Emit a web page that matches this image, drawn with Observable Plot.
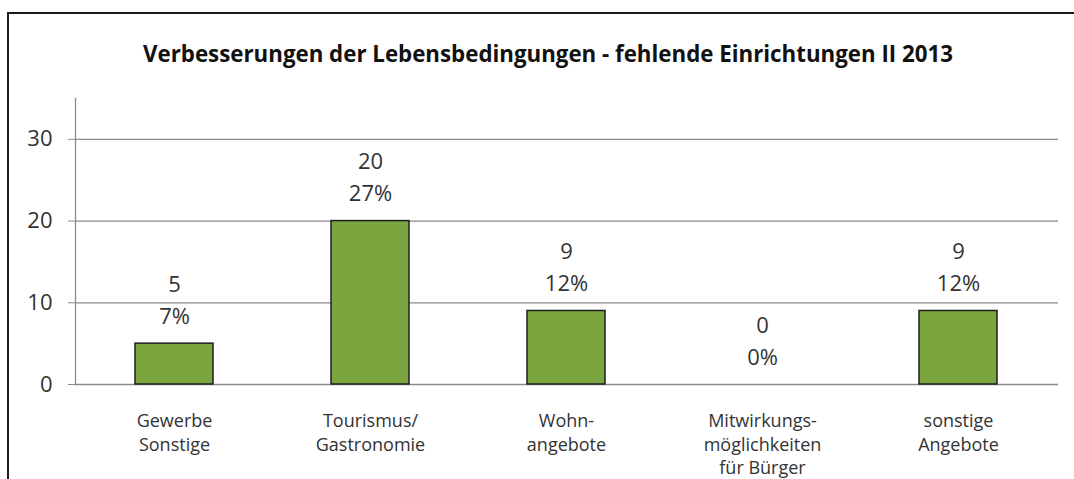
<!DOCTYPE html>
<html>
<head>
<meta charset="utf-8">
<script src="https://cdn.jsdelivr.net/npm/d3@7"></script>
<script src="https://cdn.jsdelivr.net/npm/@observablehq/plot@0.6"></script>
<style>
  html, body { margin: 0; padding: 0; background: #fff; }
  #wrap { position: relative; width: 1074px; height: 479px; overflow: hidden; background: #fff; font-family: "Open Sans", Lato, sans-serif; }
  #border { position: absolute; left: 7px; top: 12px; width: 1200px; height: 600px; border: 2px solid #1a1a1a; box-sizing: border-box; }
  #title { position: absolute; left: 0; width: 1096px; top: 38px; text-align: center; font-weight: bold; font-size: 22.3px; color: #111; white-space: nowrap; }
  #chart { position: absolute; left: 0; top: 0; }
</style>
</head>
<body>
<div id="wrap">
  <div id="border"></div>
  <div id="title">Verbesserungen der Lebensbedingungen - fehlende Einrichtungen II 2013</div>
  <div id="chart"></div>
</div>
<script>
const categories = ["Gewerbe\nSonstige", "Tourismus/\nGastronomie", "Wohn-\nangebote", "Mitwirkungs-\nmöglichkeiten\nfür Bürger", "sonstige\nAngebote"];
const counts = [5, 20, 9, 0, 9];
const percents = ["7%", "27%", "12%", "0%", "12%"];
const yTicks = [0, 10, 20, 30];

const data = categories.map((c, i) => ({cat: c, value: counts[i], label: `${counts[i]}\n${percents[i]}`}));

const chart = Plot.plot({
  width: 1074,
  height: 479,
  marginLeft: 75,
  marginRight: 16,
  marginTop: 98,
  marginBottom: 95,
  style: {fontFamily: "'Open Sans', Lato, sans-serif", background: "transparent", color: "#333"},
  x: {domain: categories, paddingInner: 0.6, paddingOuter: 0.3, label: null},
  y: {domain: [0, 35], label: null},
  marks: [
    Plot.ruleY(yTicks, {stroke: "#8a8a8a", strokeWidth: 1.3}),
    Plot.frame({anchor: "left", stroke: "#8a8a8a", strokeWidth: 1.3}),
    Plot.axisY({ticks: yTicks, tickSize: 7, tickPadding: 16, fontSize: 22, stroke: "#8a8a8a", fill: "#333", label: null}),
    Plot.axisX({tickSize: 0, tickPadding: 26, fontSize: 18, lineHeight: 1.3, fill: "#333", label: null}),
    Plot.barY(data, {x: "cat", y: "value", fill: "#7ba53f", stroke: "#1f1f1f", strokeWidth: 1.5}),
    Plot.text(data, {x: "cat", y: "value", text: "label", lineAnchor: "bottom", dy: -20, fontSize: 22, lineHeight: 1.45, fill: "#333"})
  ]
});
document.getElementById("chart").appendChild(chart);
</script>
</body>
</html>
